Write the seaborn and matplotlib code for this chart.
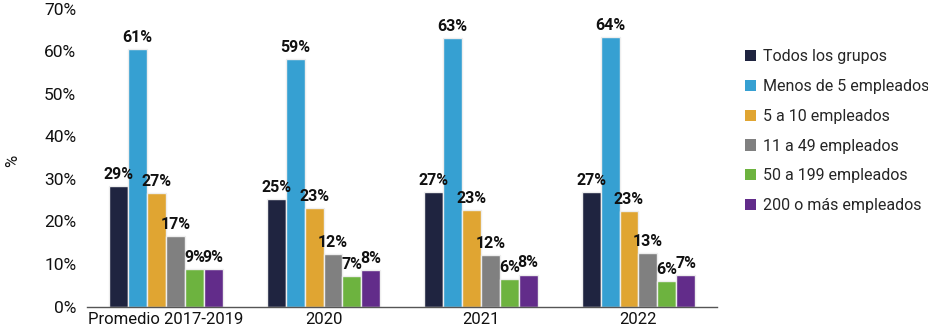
import matplotlib
matplotlib.use("Agg")
import matplotlib.pyplot as plt
import seaborn as sns
import pandas as pd
from matplotlib.patches import Patch

categories = ["Promedio 2017-2019", "2020", "2021", "2022"]
groups = ["Todos los grupos", "Menos de 5 empleados", "5 a 10 empleados",
          "11 a 49 empleados", "50 a 199 empleados", "200 o más empleados"]
todos = [28.3, 25.3, 26.9, 26.9]
menos5 = [60.6, 58.3, 63.2, 63.4]
e5_10 = [26.6, 23.1, 22.7, 22.5]
e11_49 = [16.5, 12.4, 12.0, 12.6]
e50_199 = [8.9, 7.2, 6.5, 6.0]
e200 = [8.9, 8.5, 7.5, 7.4]
labels = {
    "Todos los grupos": ["29%", "25%", "27%", "27%"],
    "Menos de 5 empleados": ["61%", "59%", "63%", "64%"],
    "5 a 10 empleados": ["27%", "23%", "23%", "23%"],
    "11 a 49 empleados": ["17%", "12%", "12%", "13%"],
    "50 a 199 empleados": ["9%", "7%", "6%", "6%"],
    "200 o más empleados": ["9%", "8%", "8%", "7%"],
}
colors = ["#1F2440", "#36A0D2", "#E0A532", "#808080", "#6DB33F", "#622C8A"]

series = [todos, menos5, e5_10, e11_49, e50_199, e200]
rows = []
for g, vals in zip(groups, series):
    for c, v in zip(categories, vals):
        rows.append({"cat": c, "grp": g, "val": v})
df = pd.DataFrame(rows)

sns.set_theme(style="white")
plt.rcParams['font.family'] = ['Roboto', 'DejaVu Sans']

fig = plt.figure(figsize=(9.29, 3.31), dpi=100)
ax = fig.add_axes([0.094, 0.074, 0.678, 0.899])
sns.barplot(data=df, x="cat", y="val", hue="grp", palette=colors,
            hue_order=groups, order=categories, width=0.72, saturation=1,
            edgecolor="#EEEEEE", linewidth=1.0, ax=ax, legend=False,
            errorbar=None)

for cont, g in zip(ax.containers, groups):
    ax.bar_label(cont, labels=labels[g], padding=3, fontsize=11.5,
                 fontweight="bold", color="#111111")

ax.set_ylim(0, 70)
ax.set_xlim(-0.5, 3.5)
ax.set_yticks(range(0, 71, 10))
ax.set_yticklabels([f"{v}%" for v in range(0, 71, 10)], fontsize=12.5, color="#111111")
ax.tick_params(axis="x", labelsize=12, colors="#111111", length=0, pad=4)
ax.tick_params(axis="y", length=0, pad=8)
ax.set_xlabel("")
ax.set_ylabel("%", fontsize=12, color="#111111")
ax.yaxis.set_label_coords(-0.106, 0.49)
for s in ["top", "right", "left"]:
    ax.spines[s].set_visible(False)
ax.spines["bottom"].set_color("#555555")
ax.spines["bottom"].set_linewidth(1.0)

handles = [Patch(facecolor=c, edgecolor="none") for c in colors]
fig.legend(handles, groups, loc="upper left", bbox_to_anchor=(0.795, 0.87),
           frameon=False, fontsize=11.5, handlelength=0.7, handleheight=0.7,
           handletextpad=0.45, labelspacing=0.92, borderaxespad=0)

fig.savefig("out.png", dpi=100)
